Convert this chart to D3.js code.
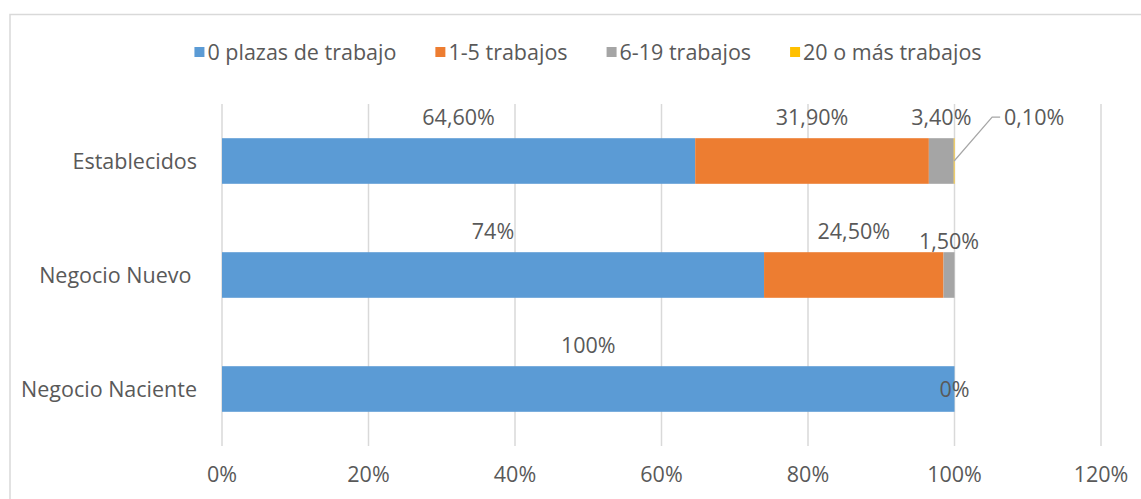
<!DOCTYPE html>
<html lang="es">
<head>
  <meta charset="UTF-8">
  <title>Plazas de trabajo</title>
  <style>
    body { margin: 0; background: #fff; }
    text { font-family: "Open Sans", Lato, sans-serif; fill: #595959; }
  </style>
</head>
<body>
  <svg width="1141" height="499"></svg>

  <script src="https://cdn.jsdelivr.net/npm/d3@7"></script>
  <script>
    // datos
    const categories = ["Establecidos", "Negocio Nuevo ", "Negocio Naciente"];
    const seriesNames = ["0 plazas de trabajo", "1-5 trabajos", "6-19 trabajos", "20 o más trabajos"];
    const seriesColors = ["#5B9BD5", "#ED7D31", "#A5A5A5", "#FFC000"];
    const values = [
      [64.6, 31.9, 3.4, 0.1],
      [74, 24.5, 1.5, 0],
      [100, 0, 0, 0]
    ];
    // etiquetas tal como aparecen (null = sin etiqueta)
    const labels = [
      ["64,60%", "31,90%", "3,40%", "0,10%"],
      ["74%", "24,50%", "1,50%", null],
      ["100%", "0%", null, null]
    ];
    const tickValues = [0, 20, 40, 60, 80, 100, 120];

    const svg = d3.select("svg");
    const fs = 21.5;

    // marco del gráfico
    svg.append("rect")
      .attr("x", 10).attr("y", 14.5)
      .attr("width", 1160).attr("height", 500)
      .attr("fill", "none")
      .attr("stroke", "#d9d9d9")
      .attr("stroke-width", 1.5);

    const x = d3.scaleLinear().domain([0, 120]).range([222, 1101]);
    const y = d3.scaleBand().domain(categories).range([104, 446])
      .paddingInner(0.6).paddingOuter(0.3);

    // líneas de cuadrícula
    svg.append("g")
      .selectAll("line")
      .data(tickValues)
      .join("line")
        .attr("x1", d => x(d)).attr("x2", d => x(d))
        .attr("y1", 104).attr("y2", 446)
        .attr("stroke", "#d9d9d9")
        .attr("stroke-width", 1.5);

    // eje x
    svg.append("g")
      .selectAll("text")
      .data(tickValues)
      .join("text")
        .attr("x", d => x(d))
        .attr("y", 474)
        .attr("dy", "0.35em")
        .attr("text-anchor", "middle")
        .attr("font-size", fs)
        .text(d => d + "%");

    // eje y
    svg.append("g")
      .selectAll("text")
      .data(categories)
      .join("text")
        .attr("x", 197)
        .attr("y", d => y(d) + y.bandwidth() / 2)
        .attr("dy", "0.35em")
        .attr("text-anchor", "end")
        .attr("font-size", fs)
        .style("white-space", "pre")
        .text(d => d);

    // pila
    const rows = categories.map((c, i) => {
      const r = { cat: c };
      seriesNames.forEach((s, j) => r[s] = values[i][j]);
      return r;
    });
    const stacked = d3.stack().keys(seriesNames)(rows);

    svg.append("g")
      .selectAll("g")
      .data(stacked)
      .join("g")
        .attr("fill", (d, j) => seriesColors[j])
      .selectAll("rect")
      .data(d => d)
      .join("rect")
        .attr("x", d => x(d[0]))
        .attr("y", d => y(d.data.cat))
        .attr("width", d => Math.max(0, x(d[1]) - x(d[0])))
        .attr("height", y.bandwidth());

    // etiquetas de datos
    const lab = [];
    stacked.forEach((s, j) => s.forEach((d, i) => {
      const t = labels[i][j];
      if (t == null) return;
      lab.push({ t, i, j, cx: (x(d[0]) + x(d[1])) / 2, top: y(d.data.cat) });
    }));
    // ajustes manuales como en el original
    const nudge = { "0-3": [80, 0], "1-2": [0, 10], "2-1": [0, 44] };
    lab.forEach(l => {
      const n = nudge[l.i + "-" + l.j] || [0, 0];
      if (l.i === 2 && l.j === 1) l.cx = x(100);
      l.lx = l.cx + n[0];
      l.ly = l.top - 21 + n[1];
    });

    svg.append("g")
      .selectAll("text")
      .data(lab)
      .join("text")
        .attr("x", d => d.lx)
        .attr("y", d => d.ly)
        .attr("dy", "0.35em")
        .attr("text-anchor", "middle")
        .attr("font-size", fs)
        .text(d => d.t);

    // línea guía para 0,10%
    const g01 = lab.find(l => l.i === 0 && l.j === 3);
    svg.append("path")
      .attr("d", d3.line()([
        [g01.cx, y(categories[0]) + y.bandwidth() / 2],
        [g01.lx - 42, g01.ly],
        [g01.lx - 34, g01.ly]
      ]))
      .attr("fill", "none")
      .attr("stroke", "#a6a6a6")
      .attr("stroke-width", 1.2);

    // leyenda
    const leg = svg.append("g");
    const items = leg.selectAll("g")
      .data(seriesNames)
      .join("g");
    items.append("rect")
      .attr("width", 10).attr("height", 10)
      .attr("y", 47)
      .attr("fill", (d, j) => seriesColors[j]);
    items.append("text")
      .attr("x", 13)
      .attr("y", 52)
      .attr("dy", "0.35em")
      .attr("font-size", fs)
      .text(d => d);
    let pos = 0;
    const gap = 39;
    items.each(function () {
      const w = 13 + d3.select(this).select("text").node().getComputedTextLength();
      d3.select(this).attr("transform", `translate(${pos},0)`);
      pos += w + gap;
    });
    const total = pos - gap;
    leg.attr("transform", `translate(${588 - total / 2},0)`);
  </script>
</body>
</html>
